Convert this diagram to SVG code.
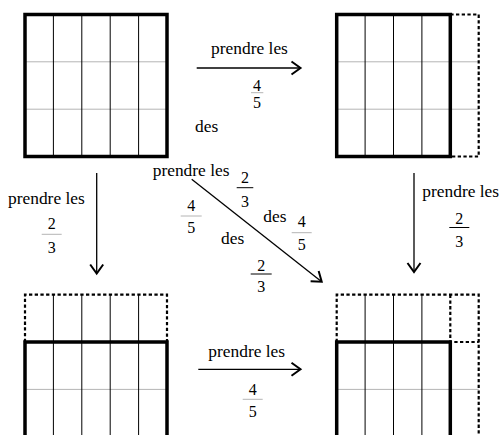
<svg xmlns="http://www.w3.org/2000/svg" width="501" height="435" viewBox="0 0 501 435">
<style>
.thick{fill:none;stroke:#000;stroke-width:3.5}
.dash{fill:none;stroke:#000;stroke-width:2.2;stroke-dasharray:3.3 2.4}
.v{stroke:#000;stroke-width:1}
.h{stroke:#b4b4b4;stroke-width:1}
.arr{fill:none;stroke:#000;stroke-width:1.3}
.barg{stroke:#b4b4b4;stroke-width:1}
.barb{stroke:#000;stroke-width:1}
.w{font-size:17.4px}
.d{font-size:16px;text-anchor:middle}
</style>
<defs>
<marker id="ah" markerUnits="userSpaceOnUse" markerWidth="20" markerHeight="20" viewBox="-12 -10 14 20" refX="0" refY="0" orient="auto">
<path d="M-9,-6.5 L0,0 L-9,6.5" fill="none" stroke="#000" stroke-width="2"/>
</marker>
</defs>
<rect width="501" height="435" fill="#fff"/>

<g id="square-top-left">
<line class="h" x1="25" y1="61.8" x2="167" y2="61.8"/>
<line class="h" x1="25" y1="109.2" x2="167" y2="109.2"/>
<line class="v" x1="53.4" y1="14.5" x2="53.4" y2="156.5"/>
<line class="v" x1="81.8" y1="14.5" x2="81.8" y2="156.5"/>
<line class="v" x1="110.2" y1="14.5" x2="110.2" y2="156.5"/>
<line class="v" x1="138.6" y1="14.5" x2="138.6" y2="156.5"/>
<rect class="thick" x="25" y="14.5" width="142" height="142"/>
</g>

<g id="square-top-right">
<line class="h" x1="336.7" y1="61.8" x2="478.7" y2="61.8"/>
<line class="h" x1="336.7" y1="109.2" x2="478.7" y2="109.2"/>
<line class="v" x1="365.1" y1="14.5" x2="365.1" y2="156.5"/>
<line class="v" x1="393.5" y1="14.5" x2="393.5" y2="156.5"/>
<line class="v" x1="421.9" y1="14.5" x2="421.9" y2="156.5"/>
<path class="dash" d="M450.3,14.5 H478.7 V156.5 H450.3"/>
<rect class="thick" x="336.7" y="14.5" width="113.6" height="142"/>
</g>

<g id="square-bottom-left">
<line class="h" x1="25" y1="389.4" x2="167" y2="389.4"/>
<line class="v" x1="53.4" y1="294.7" x2="53.4" y2="436"/>
<line class="v" x1="81.8" y1="294.7" x2="81.8" y2="436"/>
<line class="v" x1="110.2" y1="294.7" x2="110.2" y2="436"/>
<line class="v" x1="138.6" y1="294.7" x2="138.6" y2="436"/>
<path class="dash" d="M25,342 V294.7 H167 V342"/>
<path class="thick" d="M25,437 V342 H167 V437"/>
</g>

<g id="square-bottom-right">
<line class="h" x1="336.7" y1="389.4" x2="478.7" y2="389.4"/>
<line class="v" x1="365.1" y1="294.7" x2="365.1" y2="436"/>
<line class="v" x1="393.5" y1="294.7" x2="393.5" y2="436"/>
<line class="v" x1="421.9" y1="294.7" x2="421.9" y2="436"/>
<path class="dash" d="M336.7,342 V294.7 H478.7 V437"/>
<path class="dash" d="M450.3,294.7 V342 H478.7"/>
<path class="thick" d="M336.7,437 V342 H450.3 V437"/>
</g>

<g id="connectors">
<line class="arr" x1="196.7" y1="68" x2="300.5" y2="68" marker-end="url(#ah)"/>
<line class="arr" x1="198.3" y1="369.3" x2="300.5" y2="369.3" marker-end="url(#ah)"/>
<line class="arr" x1="96.7" y1="173" x2="96.7" y2="273.5" marker-end="url(#ah)"/>
<line class="arr" x1="414" y1="173" x2="414" y2="272" marker-end="url(#ah)"/>
<line class="arr" x1="191.7" y1="179.3" x2="321.7" y2="281.7" marker-end="url(#ah)"/>
</g>

<g font-family="'Liberation Serif', 'DejaVu Serif', serif" fill="#000">
<g id="label-top">
<text class="w" x="249.5" y="54" text-anchor="middle">prendre les</text>
<text class="d" x="257" y="90.5">4</text>
<line class="barg" x1="251" y1="92.7" x2="263.3" y2="92.7"/>
<text class="d" x="257" y="108.3">5</text>
<text class="w" x="195" y="131.5">des</text>
</g>

<g id="label-left">
<text class="w" x="8" y="204">prendre les</text>
<text class="d" x="51.7" y="229">2</text>
<line class="barg" x1="41.7" y1="234.3" x2="61.7" y2="234.3"/>
<text class="d" x="51.7" y="253.3">3</text>
</g>

<g id="label-right">
<text class="w" x="422.3" y="196.7">prendre les</text>
<text class="d" x="459.3" y="224">2</text>
<line class="barb" x1="449.3" y1="227.5" x2="469.3" y2="227.5"/>
<text class="d" x="459.3" y="246.7">3</text>
</g>

<g id="label-diagonal">
<text class="w" x="152.7" y="176">prendre les</text>
<text class="d" x="245" y="183.3">2</text>
<line class="barb" x1="236.7" y1="187.7" x2="253.3" y2="187.7"/>
<text class="d" x="245" y="207.3">3</text>
<text class="d" x="191.3" y="211">4</text>
<line class="barg" x1="180.7" y1="216" x2="201.7" y2="216"/>
<text class="d" x="191.3" y="233.3">5</text>
<text class="w" x="263.3" y="221.7">des</text>
<text class="d" x="301.7" y="227.3">4</text>
<line class="barg" x1="291.7" y1="232.7" x2="311.7" y2="232.7"/>
<text class="d" x="301.7" y="250">5</text>
<text class="w" x="221" y="244.3">des</text>
<text class="d" x="261.3" y="270.7">2</text>
<line class="barb" x1="250.7" y1="274" x2="271.7" y2="274"/>
<text class="d" x="261.3" y="291.7">3</text>
</g>

<g id="label-bottom">
<text class="w" x="246.7" y="356.7" text-anchor="middle">prendre les</text>
<text class="d" x="252.7" y="395">4</text>
<line class="barg" x1="242.7" y1="399.3" x2="262.7" y2="399.3"/>
<text class="d" x="252.7" y="417">5</text>
</g>
</g>
</svg>
